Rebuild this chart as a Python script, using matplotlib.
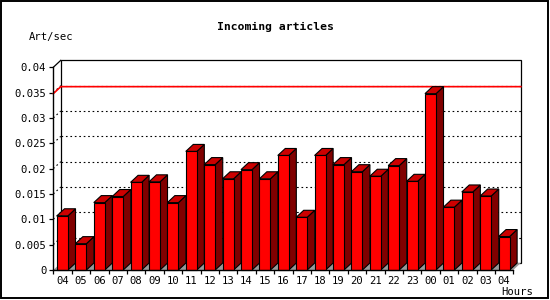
import matplotlib
matplotlib.use("Agg")
from matplotlib import pyplot as plt
from matplotlib.patches import Polygon, Rectangle
from matplotlib.ticker import FixedLocator, NullFormatter

hours = ["04", "05", "06", "07", "08", "09", "10", "11", "12", "13", "14", "15", "16",
         "17", "18", "19", "20", "21", "22", "23", "00", "01", "02", "03", "04"]
rates = [0.0107, 0.0052, 0.0133, 0.0145, 0.0173, 0.0174, 0.0133, 0.0234, 0.0208,
         0.0180, 0.0198, 0.0180, 0.0226, 0.0104, 0.0226, 0.0208, 0.0194, 0.0185,
         0.0206, 0.0175, 0.0348, 0.0124, 0.0154, 0.0146, 0.0066]
y_ticks = [0, 0.005, 0.01, 0.015, 0.02, 0.025, 0.03, 0.035, 0.04]

W, H = 550, 300
FRONT = "#ff0000"
SIDE = "#800000"
TOP = "#cc0000"
FLOOR = "#999999"
MONO = "DejaVu Sans Mono"

fig = plt.figure(figsize=(W / 100, H / 100), dpi=100)
# plot area in pixels: x 53..513, y 270..67
ax = fig.add_axes([53.3 / W, (H - 270) / H, 460 / W, (270 - 67.3) / H])
n = len(hours)
ymax = y_ticks[-1]
ax.set_xlim(0, n)
ax.set_ylim(0, ymax)

# depth of the 3d look, 7.5 px right and 7 px up, in data units
ddx = 7.5 / (460 / n)
ddy = 7 * ymax / (270 - 67.3)

# outer frame
fig.patches.append(Rectangle((1 / W, 2 / H), 547 / W, 297 / H, transform=fig.transFigure,
                             fill=False, ec="black", lw=1.4))

# back wall
ax.add_patch(Rectangle((ddx, ddy), n, ymax, fc="white", ec="black", lw=0.9,
                       clip_on=False, zorder=1))
ax.plot([0, ddx], [ymax, ymax + ddy], c="black", lw=0.9, clip_on=False, zorder=1)

for t in y_ticks[1:-1]:
    ax.plot([ddx, n + ddx], [t + ddy, t + ddy], c="black", ls=(0, (1.5, 2.5)), lw=0.8,
            clip_on=False, zorder=2)
    ax.plot([0, ddx], [t, t + ddy], c="black", ls=(0, (1.5, 2.5)), lw=0.8,
            clip_on=False, zorder=2)

# max line
peak = max(rates)
ax.plot([0, ddx, n + ddx], [peak, peak + ddy, peak + ddy], c="red", lw=1.2,
        clip_on=False, zorder=2.5)

# floor
ax.add_patch(Polygon([(0, 0), (n, 0), (n + ddx, ddy), (ddx, ddy)], closed=True,
                     fc=FLOOR, ec="none", clip_on=False, zorder=3))

bw = 0.6
for i, v in enumerate(rates):
    x0 = i + (1 - bw) / 2
    x1 = x0 + bw
    z = 4 + i * 0.01
    ax.add_patch(Polygon([(x1, 0), (x1 + ddx, ddy), (x1 + ddx, v + ddy), (x1, v)],
                         closed=True, fc=SIDE, ec="black", lw=0.8, clip_on=False, zorder=z))
    ax.add_patch(Polygon([(x0, v), (x1, v), (x1 + ddx, v + ddy), (x0 + ddx, v + ddy)],
                         closed=True, fc=TOP, ec="black", lw=0.8, clip_on=False, zorder=z))
    ax.add_patch(Rectangle((x0, 0), bw, v, fc=FRONT, ec="black", lw=0.8,
                           clip_on=False, zorder=z))

for s in ["top", "right"]:
    ax.spines[s].set_visible(False)
for s in ["left", "bottom"]:
    ax.spines[s].set_linewidth(1.0)
    ax.spines[s].set_zorder(10)
ax.patch.set_visible(False)

ax.set_yticks(y_ticks)
ax.set_yticklabels(["%g" % t for t in y_ticks], family=MONO, fontsize=7.6)
ax.xaxis.set_major_locator(FixedLocator(range(n + 1)))
ax.xaxis.set_major_formatter(NullFormatter())
ax.set_xticks([i + 0.5 for i in range(n)], minor=True)
ax.set_xticklabels(hours, minor=True, family=MONO, fontsize=7.6)
ax.tick_params(axis="both", which="major", direction="out", length=3, width=0.9, pad=2)
ax.tick_params(axis="x", which="minor", length=0, pad=4)

fig.text(275 / W, 1 - 27 / H, "Incoming articles", family=MONO, weight="bold",
         fontsize=8.2, ha="center", va="center")
fig.text(29 / W, 1 - 37 / H, "Art/sec", family=MONO, fontsize=7.6, ha="left", va="center")
fig.text(533 / W, 1 - 292 / H, "Hours", family=MONO, fontsize=7.6, ha="right", va="center")

fig.savefig("out.png", dpi=100)
